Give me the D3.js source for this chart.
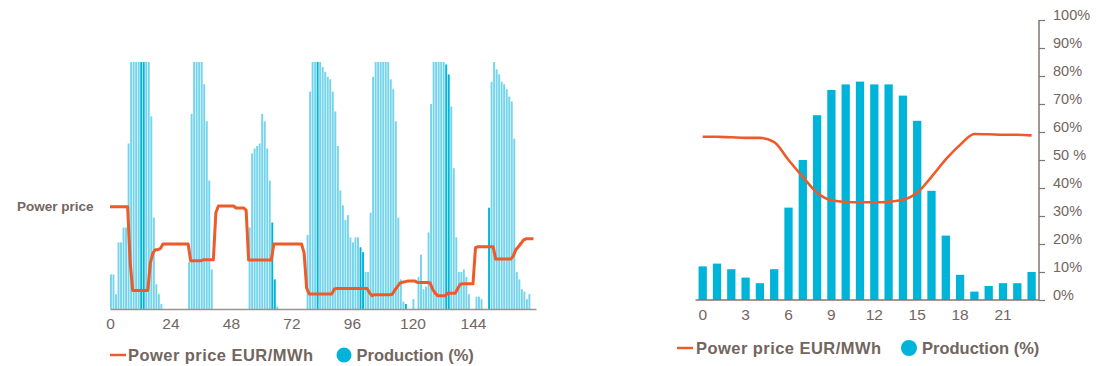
<!DOCTYPE html>
<html><head><meta charset="utf-8">
<script src="https://cdn.jsdelivr.net/npm/d3@7"></script>
<style>
body{margin:0;background:#fff;}
svg{display:block;font-family:"Liberation Sans",Arial,sans-serif;}
</style>
</head><body>
<svg id="chart" width="1097" height="366"></svg>
<script>
// ---------- DATA ----------
// Left chart: hourly production (%) over one week (168 hours)
const weekProduction = [
  14,14,6,27,27,33,33,67,100,100,100,100,100,100,100,100,78,37,10,6,2,
  0,0,0,0,0,0,0,0,0,0,
  19,79,100,100,100,100,91,76,52,16,
  0,0,0,0,0,0,0,0,0,0,0,0,0,0,
  33,63,65,66,67,79,76,65,52,35,12,1,
  0,0,0,0,0,0,0,0,0,0,0,
  30,88,100,100,100,100,98,96,94,93,88,80,66,48,42,36,38,29,27,29,29,25,23,15,15,39,94,100,100,100,100,100,100,93,89,76,37,12,3,2,
  0,0,4,0,13,22,8,9,31,83,100,100,100,100,100,99,95,82,57,29,15,15,16,13,6,0,0,5,5,4,0,0,
  41,92,100,97,95,92,91,89,86,84,69,15,12,8,7,4,6,0
];
// hours drawn in the stronger cyan
const weekHighlight = [12,13,64,65,82,99,100,117,133,134,150];
// Power price (EUR/MWh, relative units) at each hour mark 0..168
const weekPrice = [
  41.4,41.4,41.4,41.4,41.4,41.4,41.4,41.4,19,7.5,7.5,7.5,7.5,7.5,7.5,7.5,
  18.6,22.6,24,24,24.5,26.3,26.3,26.3,26.3,26.3,26.3,26.3,26.3,26.3,26.3,26.3,
  19.5,19.5,19.5,19.5,19.5,19.9,19.9,19.9,19.9,19.9,39,41.7,41.7,41.7,41.7,41.7,41.7,41.7,
  40.9,40.9,40.9,40.9,40,
  19.8,19.8,19.8,19.8,19.8,19.8,19.8,19.8,19.8,19.8,
  26.3,26.3,26.3,26.3,26.3,26.3,26.3,26.3,26.3,26.3,26.3,26.3,
  22.7,8.5,6.1,6.1,6.1,6.1,6.1,6.1,6.1,6.1,6.1,6.1,
  8.1,8.3,8.3,8.3,8.3,8.3,8.3,8.3,8.3,8.3,8.3,8.3,8.3,8.3,
  6.5,5.4,5.8,5.8,5.8,5.8,5.8,5.8,5.8,
  6,7.7,9,10.5,10.8,11,11.3,11.3,11.3,11.3,10.7,10.7,10.7,10.7,10.7,10.5,
  8,6.4,5.4,5.4,5.4,5.4,6.4,6.4,6.4,6.4,8.4,10,10.2,10.2,10.2,10.2,10.2,
  24.8,25.2,25.2,25.2,25.2,25.2,25.2,25.2,
  20.2,20.2,20.2,20.2,20.2,20.2,20.2,
  21.5,24,25.2,26.5,27.9,28.4,28.4,28.4,28.4
];
const weekTicks = [0,24,48,72,96,120,144];

// Right chart: average day
const dayHours = [0,1,2,3,4,5,6,7,8,9,10,11,12,13,14,15,16,17,18,19,20,21,22,23];
const dayProduction = [12,13,11,8,6,11,33,50,66,75,77,78,77,77,73,64,39,23,9,3,5,6,6,10];
const dayPrice = [58.3,58.3,58.1,57.9,57.9,56.4,50,44,38.3,35.6,35,34.9,34.9,35.1,35.8,38.3,44,50.2,55.4,59.3,59.2,59,59,58.8];
const dayTicks = [0,3,6,9,12,15,18,21];
const pctTicks = [0,10,20,30,40,50,60,70,80,90,100];
const pctLabels = ["0%","10%","20%","30%","40%","50 %","60%","70%","80%","90%","100%"];

const seriesNames = ["Power price EUR/MWh","Production (%)"];

// ---------- STYLE ----------
const ORANGE = "#ee5a28";
const CYAN = "#00b4d9";
const CYAN_LIGHT = "#74d4ec";
const TEXT = "#72665f";
const AXIS = "#7f7671";

const svg = d3.select("#chart");

// ---------- LEFT CHART ----------
const xW = d3.scaleLinear().domain([0,169]).range([110,536]);
const yW = d3.scaleLinear().domain([0,100]).range([309,62]).clamp(true);
const stepW = xW(1)-xW(0);

const gL = svg.append("g");
gL.selectAll("rect.wbar").data(weekProduction.map((v,i)=>({h:i,v:v})).filter(d=>d.v>0))
  .join("rect").attr("class","wbar")
  .attr("x", d=>xW(d.h))
  .attr("width", stepW-0.6)
  .attr("y", d=>yW(d.v))
  .attr("height", d=>yW(0)-yW(d.v))
  .attr("fill", d=>weekHighlight.includes(d.h)?CYAN:CYAN_LIGHT);

const axW = gL.append("g").attr("transform","translate(0,309)")
  .call(d3.axisBottom(xW).tickValues(weekTicks).tickSize(0).tickPadding(9).tickFormat(d3.format("d")));
axW.select(".domain").attr("stroke","#9a9390").attr("stroke-width",1.5);
axW.selectAll("text").attr("fill",TEXT).attr("font-size",15.5).attr("font-family","Liberation Sans, Arial, sans-serif");

gL.append("path").datum(weekPrice)
  .attr("fill","none").attr("stroke",ORANGE).attr("stroke-width",3)
  .attr("stroke-linejoin","round")
  .attr("d", d3.line().x((d,i)=>xW(i)).y(d=>yW(d)));

gL.append("text").attr("x",17).attr("y",211).text("Power price")
  .attr("fill",TEXT).attr("font-size",13.5).attr("font-weight","bold");

// legends
function legend(g, x0, y, lineLen, gap1, circX, r){
  g.append("line").attr("x1",x0).attr("x2",x0+lineLen).attr("y1",y).attr("y2",y)
    .attr("stroke",ORANGE).attr("stroke-width",2.5);
  g.append("text").attr("x",x0+lineLen+gap1).attr("y",y+6).text(seriesNames[0])
    .attr("fill",TEXT).attr("font-size",16.5).attr("font-weight","bold").attr("letter-spacing","0.45px");
  g.append("circle").attr("cx",circX).attr("cy",y).attr("r",r).attr("fill",CYAN);
  g.append("text").attr("x",circX+r+5).attr("y",y+6).text(seriesNames[1])
    .attr("fill",TEXT).attr("font-size",16.5).attr("font-weight","bold");
}
legend(svg.append("g"), 110, 355, 16, 2, 344, 7.5);

// ---------- RIGHT CHART ----------
const xD = d3.scaleBand().domain(dayHours).range([695.55,1038.75]).paddingInner(0.42).paddingOuter(0.21);
const yD = d3.scaleLinear().domain([0,100]).range([300,20]);

const gR = svg.append("g");
gR.selectAll("rect.dbar").data(dayProduction).join("rect").attr("class","dbar")
  .attr("x",(d,i)=>xD(dayHours[i]))
  .attr("width",xD.bandwidth())
  .attr("y",d=>yD(d))
  .attr("height",d=>yD(0)-yD(d))
  .attr("fill",CYAN);

gR.append("path").datum(dayPrice)
  .attr("fill","none").attr("stroke",ORANGE).attr("stroke-width",2.6)
  .attr("stroke-linejoin","round")
  .attr("d", d3.line().x((d,i)=>xD(dayHours[i])+xD.bandwidth()/2).y(d=>yD(d)).curve(d3.curveMonotoneX));

const axD = gR.append("g").attr("transform","translate(0,300)")
  .call(d3.axisBottom(xD).tickValues(dayTicks).tickSize(0).tickPadding(9));
axD.select(".domain").attr("stroke",AXIS).attr("stroke-width",1.5).attr("d","M695.5,0H1039");
axD.selectAll("text").attr("fill",TEXT).attr("font-size",15.5).attr("font-family","Liberation Sans, Arial, sans-serif");

const ayD = gR.append("g").attr("transform","translate(1039,0)")
  .call(d3.axisRight(yD).tickValues(pctTicks).tickSize(6).tickPadding(8)
    .tickFormat((d,i)=>pctLabels[i]));
ayD.select(".domain").attr("stroke",AXIS).attr("stroke-width",1.5).attr("d","M0,20V300");
ayD.selectAll("line").attr("stroke",AXIS).attr("stroke-width",1.2);
ayD.selectAll("text").attr("fill",TEXT).attr("font-size",14.5).attr("font-family","Liberation Sans, Arial, sans-serif").attr("dy","-0.05em");

legend(svg.append("g"), 677, 348, 16, 3, 909, 8);
</script>
</body></html>
